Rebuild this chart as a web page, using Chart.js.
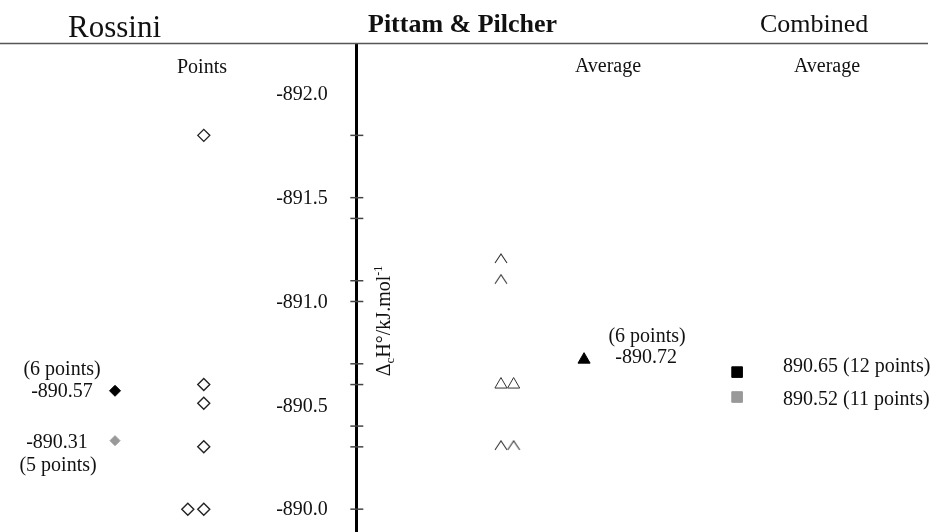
<!DOCTYPE html>
<html>
<head>
<meta charset="utf-8">
<script src="https://cdn.jsdelivr.net/npm/chart.js@4"></script>
<style>
body { margin: 0; background: #fff; }
canvas { display: block; }
</style>
</head>
<body>
<canvas id="myChart" width="939" height="532"></canvas>
<script>
'use strict'
// axis labels and the small marks on the axis
let yLabels = [-892.0, -891.5, -891.0, -890.5, -890.0];
let tickMarks = [-891.8, -891.5, -891.4, -891.1, -891.0, -890.7, -890.6, -890.4, -890.3, -890.0];

// Rossini
let rossiniX = [2.17, 2.17, 2.17, 2.17, 2.0, 2.17];
let rossiniY = [-891.8, -890.6, -890.51, -890.3, -890.0, -890.0];
let rossiniAvg = [-890.57, -890.33];
let rossiniAvgText = [['(6 points)', '-890.57'], ['-890.31', '(5 points)']];

// Pittam & Pilcher
let pittamX = [5.335, 5.335, 5.335, 5.47, 5.335, 5.47];
let pittamY = [-891.2, -891.1, -890.6, -890.6, -890.3, -890.3];
let pittamAvg = [-890.72];
let pittamAvgText = ['(6 points)', '-890.72'];

// Combined
let combinedAvg = [-890.66, -890.54];
let combinedText = ['890.65 (12 points)', '890.52 (11 points)'];

// column of each group on the x scale (0..10)
let axisX = 3.8;
let rossiniAvgX = 1.225;
let pittamAvgX = 6.22;
let combinedX = 7.85;

let serif = "'Liberation Serif', 'Times New Roman', serif";

function makeCaret() {
    let c = document.createElement('canvas');
    c.width = 14;
    c.height = 14;
    let g = c.getContext('2d');
    g.strokeStyle = '#333';
    g.lineWidth = 1.1;
    g.beginPath();
    g.moveTo(1, 10);
    g.lineTo(7, 1);
    g.lineTo(13, 10);
    g.stroke();
    return c;
}
let caret = makeCaret();

function pts(xs, ys) {
    return ys.map((v, i) => ({ x: Array.isArray(xs) ? xs[i] : xs, y: v }));
}

function txt(ctx, s, x, y, size, align, weight) {
    ctx.font = (weight || 'normal') + ' ' + size + 'px ' + serif;
    ctx.textAlign = align;
    ctx.fillText(s, x, y);
}

let textPlugin = {
    id: 'texts',
    afterDraw(chart) {
        let ctx = chart.ctx;
        let xs = chart.scales.x;
        let ys = chart.scales.y;
        let top = chart.chartArea.top;
        ctx.save();
        ctx.strokeStyle = '#555';
        ctx.lineWidth = 1.5;
        ctx.beginPath();
        ctx.moveTo(0, top - 0.5);
        ctx.lineTo(928, top - 0.5);
        ctx.stroke();

        ctx.fillStyle = '#111';
        ctx.textBaseline = 'alphabetic';
        txt(ctx, 'Rossini', 68, 37, 31, 'left');
        txt(ctx, 'Pittam & Pilcher', 368, 32, 26, 'left', 'bold');
        txt(ctx, 'Combined', 760, 32, 26, 'left');
        txt(ctx, 'Points', 202, 73, 20, 'center');
        txt(ctx, 'Average', 608, 72, 20, 'center');
        txt(ctx, 'Average', 827, 72, 20, 'center');

        ctx.textBaseline = 'middle';
        // value labels of the axis
        let ax = xs.getPixelForValue(axisX);
        yLabels.forEach(v => {
            txt(ctx, v.toFixed(1), ax - 29, ys.getPixelForValue(v) + 1, 20, 'right');
        });

        let px = xs.getPixelForValue(rossiniAvgX);
        let py = ys.getPixelForValue(rossiniAvg[0]);
        txt(ctx, rossiniAvgText[0][0], px - 53, py - 21, 20, 'center');
        txt(ctx, rossiniAvgText[0][1], px - 53, py + 1, 20, 'center');
        py = ys.getPixelForValue(rossiniAvg[1]);
        txt(ctx, rossiniAvgText[1][0], px - 58, py + 2, 20, 'center');
        txt(ctx, rossiniAvgText[1][1], px - 57, py + 25, 20, 'center');

        px = xs.getPixelForValue(pittamAvgX);
        py = ys.getPixelForValue(pittamAvg[0]);
        txt(ctx, pittamAvgText[0], px + 63, py - 23, 20, 'center');
        txt(ctx, pittamAvgText[1], px + 62, py - 2, 20, 'center');

        px = xs.getPixelForValue(combinedX);
        txt(ctx, combinedText[0], px + 46, ys.getPixelForValue(combinedAvg[0]) - 5, 20, 'left');
        txt(ctx, combinedText[1], px + 46, ys.getPixelForValue(combinedAvg[1]) + 3, 20, 'left');

        // axis title, reads bottom to top
        ctx.translate(ax + 33, 321);
        ctx.rotate(-Math.PI / 2);
        ctx.textBaseline = 'alphabetic';
        ctx.textAlign = 'left';
        let parts = [['\u0394', 20, 0], ['c', 13, 4], ['H\u00b0/kJ.mol', 20, 0], ['-1', 12, -8]];
        let w = 0;
        parts.forEach(p => { ctx.font = p[1] + 'px ' + serif; w += ctx.measureText(p[0]).width; });
        let cx = -w / 2;
        parts.forEach(p => {
            ctx.font = p[1] + 'px ' + serif;
            ctx.fillText(p[0], cx, p[2]);
            cx += ctx.measureText(p[0]).width;
        });
        ctx.restore();
    }
};

let ctx = document.getElementById('myChart').getContext('2d');
let myChart = new Chart(ctx, {
    type: 'scatter',
    data: {
        datasets: [
            {
                label: 'axis marks',
                data: pts(axisX, tickMarks),
                pointStyle: 'line',
                radius: 6.5,
                borderColor: '#444',
                borderWidth: 1.5
            },
            {
                label: 'Rossini points',
                data: pts(rossiniX, rossiniY),
                pointStyle: 'rectRot',
                radius: 6,
                borderColor: '#222',
                backgroundColor: '#fff',
                borderWidth: 1.4
            },
            {
                label: 'Rossini average (6 points)',
                data: pts(rossiniAvgX, [rossiniAvg[0]]),
                pointStyle: 'rectRot',
                radius: 5.5,
                borderColor: '#000',
                backgroundColor: '#000',
                borderWidth: 1
            },
            {
                label: 'Rossini average (5 points)',
                data: pts(rossiniAvgX, [rossiniAvg[1]]),
                pointStyle: 'rectRot',
                radius: 5,
                borderColor: '#999',
                backgroundColor: '#999',
                borderWidth: 1
            },
            {
                label: 'Pittam points',
                data: pts(pittamX, pittamY),
                pointStyle: [caret, caret, 'triangle', 'triangle', caret, caret],
                radius: 7,
                borderColor: '#333',
                backgroundColor: '#fff',
                borderWidth: 1
            },
            {
                label: 'Pittam average',
                data: pts(pittamAvgX, pittamAvg),
                pointStyle: 'triangle',
                radius: 7,
                borderColor: '#000',
                backgroundColor: '#000',
                borderWidth: 1
            },
            {
                label: 'Combined 12',
                data: pts(combinedX, [combinedAvg[0]]),
                pointStyle: 'rect',
                radius: 7.5,
                borderColor: '#000',
                backgroundColor: '#000',
                borderWidth: 1
            },
            {
                label: 'Combined 11',
                data: pts(combinedX, [combinedAvg[1]]),
                pointStyle: 'rect',
                radius: 7.5,
                borderColor: '#999',
                backgroundColor: '#999',
                borderWidth: 1
            }
        ]
    },
    options: {
        responsive: false,
        animation: false,
        devicePixelRatio: 1,
        layout: { autoPadding: false, padding: { top: 44, left: 0, right: 0, bottom: 0 } },
        plugins: {
            legend: { display: false },
            tooltip: { enabled: false }
        },
        scales: {
            x: {
                type: 'linear',
                min: 0,
                max: 10,
                display: false
            },
            y: {
                type: 'linear',
                reverse: true,
                min: -892.24,
                max: -889.89,
                position: { x: axisX },
                afterFit: s => {
                    s.width = 0;
                    s.paddingTop = 0;
                    s.paddingBottom = 0;
                },
                afterBuildTicks: s => { s.ticks = yLabels.map(v => ({ value: v })); },
                grid: { display: false },
                border: { display: true, color: '#000', width: 3 },
                ticks: { display: false }
            }
        }
    },
    plugins: [textPlugin]
});
</script>
</body>
</html>
